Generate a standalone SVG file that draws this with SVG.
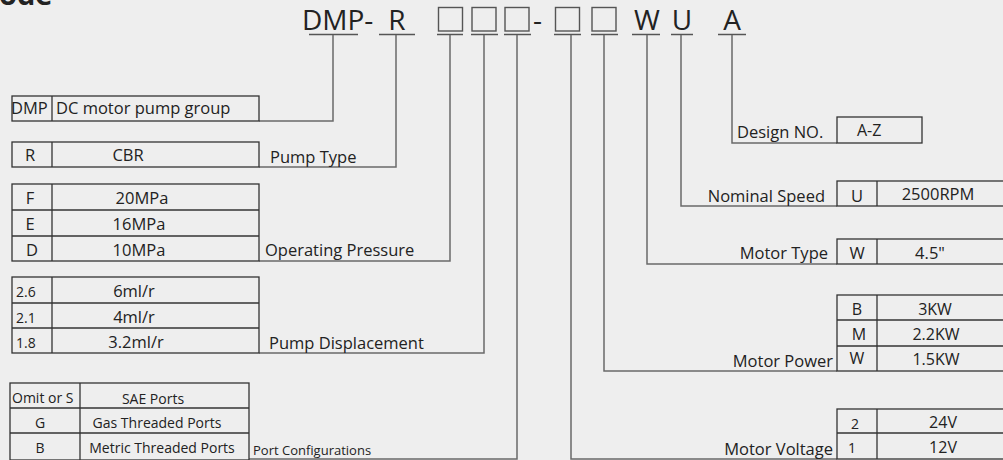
<svg xmlns="http://www.w3.org/2000/svg" width="1003" height="460" viewBox="0 0 1003 460">
<style>
text{font-family:"Open Sans","Noto Sans",sans-serif;fill:#222}
.t{font-size:16.5px}
.s{font-size:14px}
.m{font-size:16px}
.xs{font-size:13px}
.c{text-anchor:middle}
.e{text-anchor:end}
.code{font-size:28px}
.box{fill:none;stroke:#333;stroke-width:1.3}
.ul{stroke:#555;stroke-width:1.5}
.sq{fill:none;stroke:#555;stroke-width:1.4}
.cn{fill:none;stroke:#6a6a6a;stroke-width:1.5}
</style>
<rect width="1003" height="460" fill="#eeeeee"/>
<text x="-1" y="5" style="font-size:29px;font-weight:bold">ode</text>
<g id="code">
<text class="code" x="302" y="30">DMP-</text>
<text class="code c" x="397" y="30">R</text>
<rect class="sq" x="438.5" y="7.5" width="24" height="23.5"/>
<rect class="sq" x="472" y="7.5" width="24" height="23.5"/>
<rect class="sq" x="505" y="7.5" width="24" height="23.5"/>
<text class="code" x="533" y="30">-</text>
<rect class="sq" x="555.5" y="7.5" width="24" height="23.5"/>
<rect class="sq" x="592" y="7.5" width="24" height="23.5"/>
<text class="code c" x="647" y="30">W</text>
<text class="code c" x="682" y="30">U</text>
<text class="code c" x="732" y="30">A</text>
<g class="ul">
<line x1="309" y1="34.5" x2="358" y2="34.5"/>
<line x1="379" y1="34.5" x2="415" y2="34.5"/>
<line x1="437" y1="34.5" x2="463" y2="34.5"/>
<line x1="471" y1="34.5" x2="498" y2="34.5"/>
<line x1="504" y1="34.5" x2="531" y2="34.5"/>
<line x1="554" y1="34.5" x2="581" y2="34.5"/>
<line x1="591" y1="34.5" x2="618" y2="34.5"/>
<line x1="632" y1="34.5" x2="660" y2="34.5"/>
<line x1="671" y1="34.5" x2="693" y2="34.5"/>
<line x1="718" y1="34.5" x2="746" y2="34.5"/>
</g>
</g>
<g id="connectors">
<path class="cn" d="M333 35V121H259"/>
<path class="cn" d="M396 35V167H259"/>
<path class="cn" d="M450 35V261H259"/>
<path class="cn" d="M484 35V353H259"/>
<path class="cn" d="M517 35V459H249"/>
<path class="cn" d="M571 35V459H837"/>
<path class="cn" d="M604 35V371H837"/>
<path class="cn" d="M647 35V264H837"/>
<path class="cn" d="M681 35V206H837"/>
<path class="cn" d="M732 35V143H837"/>
</g>
<g id="dmp">
<rect class="box" x="12" y="96" width="247" height="25"/>
<line class="box" x1="52" y1="96" x2="52" y2="121"/>
<text class="t" x="11" y="114">DMP</text>
<text class="t" x="56" y="114">DC motor pump group</text>
</g>
<g id="pumptype">
<rect class="box" x="12" y="142" width="247" height="25"/>
<line class="box" x1="52" y1="142" x2="52" y2="167"/>
<text class="t c" x="30" y="161">R</text>
<text class="t c" x="128" y="161">CBR</text>
<text class="t" x="270" y="163">Pump Type</text>
</g>
<g id="pressure">
<rect class="box" x="12" y="184" width="247" height="77"/>
<line class="box" x1="12" y1="210" x2="259" y2="210"/>
<line class="box" x1="12" y1="236" x2="259" y2="236"/>
<line class="box" x1="52" y1="184" x2="52" y2="261"/>
<text class="t c" x="30" y="204">F</text>
<text class="t c" x="142" y="204">20MPa</text>
<text class="t c" x="30" y="230">E</text>
<text class="t c" x="139" y="230">16MPa</text>
<text class="t c" x="32" y="256">D</text>
<text class="t c" x="139" y="256">10MPa</text>
<text class="t" x="265" y="256">Operating Pressure</text>
</g>
<g id="displacement">
<rect class="box" x="12" y="277" width="247" height="76"/>
<line class="box" x1="12" y1="303" x2="259" y2="303"/>
<line class="box" x1="12" y1="328" x2="259" y2="328"/>
<line class="box" x1="52" y1="277" x2="52" y2="353"/>
<text class="s" x="16" y="297">2.6</text>
<text class="t c" x="134" y="297">6ml/r</text>
<text class="s" x="16" y="323">2.1</text>
<text class="t c" x="134" y="323">4ml/r</text>
<text class="s" x="16" y="348">1.8</text>
<text class="t c" x="136" y="348">3.2ml/r</text>
<text class="t" x="269" y="349">Pump Displacement</text>
</g>
<g id="ports">
<rect class="box" x="10" y="383" width="239" height="77"/>
<line class="box" x1="10" y1="408" x2="249" y2="408"/>
<line class="box" x1="10" y1="433" x2="249" y2="433"/>
<line class="box" x1="80" y1="383" x2="80" y2="460"/>
<text class="s" x="12" y="403">Omit or S</text>
<text class="s c" x="153" y="404">SAE Ports</text>
<text class="s c" x="40" y="428">G</text>
<text class="s c" x="157" y="428">Gas Threaded Ports</text>
<text class="s c" x="40" y="453">B</text>
<text class="s c" x="162" y="453">Metric  Threaded Ports</text>
<text class="xs" x="253" y="455">Port  Configurations</text>
</g>
<g id="design">
<rect class="box" x="837" y="117" width="85" height="26"/>
<text class="t" x="737" y="138">Design NO.</text>
<text class="m" x="857" y="136">A-Z</text>
</g>
<g id="speed">
<rect class="box" x="837" y="181" width="180" height="25"/>
<line class="box" x1="877" y1="181" x2="877" y2="206"/>
<text class="t e" x="825" y="202">Nominal Speed</text>
<text class="t c" x="857" y="202">U</text>
<text class="t c" x="938" y="200">2500RPM</text>
</g>
<g id="motortype">
<rect class="box" x="837" y="239" width="180" height="25"/>
<line class="box" x1="877" y1="239" x2="877" y2="264"/>
<text class="t e" x="828" y="259">Motor Type</text>
<text class="t c" x="857" y="259">W</text>
<text class="t c" x="930" y="259">4.5"</text>
</g>
<g id="power">
<rect class="box" x="837" y="295" width="180" height="76"/>
<line class="box" x1="837" y1="320" x2="1017" y2="320"/>
<line class="box" x1="837" y1="346" x2="1017" y2="346"/>
<line class="box" x1="877" y1="295" x2="877" y2="371"/>
<text class="t e" x="833" y="367">Motor Power</text>
<text class="m c" x="857" y="315">B</text>
<text class="m c" x="935" y="315">3KW</text>
<text class="m c" x="859" y="340">M</text>
<text class="m c" x="936" y="340">2.2KW</text>
<text class="m c" x="857" y="364">W</text>
<text class="m c" x="936" y="365">1.5KW</text>
</g>
<g id="voltage">
<rect class="box" x="837" y="409" width="180" height="50"/>
<line class="box" x1="837" y1="433" x2="1017" y2="433"/>
<line class="box" x1="877" y1="409" x2="877" y2="459"/>
<text class="t e" x="833" y="455">Motor Voltage</text>
<text class="s c" x="855" y="429">2</text>
<text class="m c" x="943" y="428">24V</text>
<text class="s c" x="852" y="453">1</text>
<text class="m c" x="943" y="453">12V</text>
</g>
</svg>
